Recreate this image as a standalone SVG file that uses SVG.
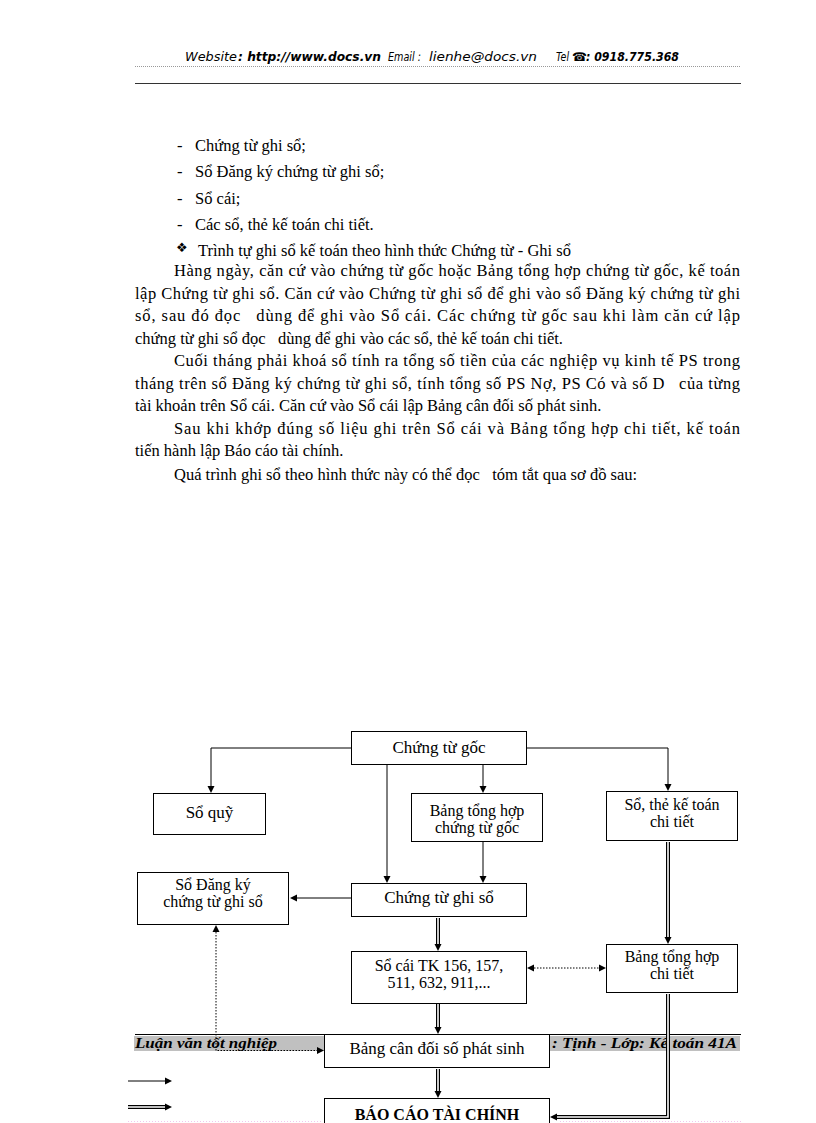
<svg xmlns="http://www.w3.org/2000/svg" width="816" height="1123" viewBox="0 0 816 1123">
<style>
  .t{font-family:"Liberation Serif","Times New Roman",serif;font-size:16.5px;fill:#000;white-space:pre}
  .b{font-family:"Liberation Serif","Times New Roman",serif;font-size:17px;fill:#000;text-anchor:middle}
  .b2{font-family:"Liberation Serif","Times New Roman",serif;font-size:16px;fill:#000;text-anchor:middle}
  .bb{font-family:"Liberation Serif","Times New Roman",serif;font-size:16px;font-weight:bold;fill:#000;text-anchor:middle}
  .box{fill:#fff;stroke:#000;stroke-width:1}
  .ln{fill:none;stroke:#000;stroke-width:1}
  .dot{fill:none;stroke:#000;stroke-width:1;stroke-dasharray:1.5 1.5}
  .dbo{fill:none;stroke:#000;stroke-width:4}
  .dbi{fill:none;stroke:#fff;stroke-width:1.6}
  .hd{font-family:"DejaVu Sans","Liberation Sans",sans-serif;font-size:12.5px;font-style:italic;fill:#000}
  .hb{font-weight:bold}
  .ft{font-family:"Liberation Serif","Times New Roman",serif;font-size:14px;font-style:italic;font-weight:bold;fill:#000}
</style>
<defs>
  <marker id="ah" markerUnits="userSpaceOnUse" markerWidth="8" markerHeight="8" viewBox="0 0 8 8" refX="0" refY="4" orient="auto-start-reverse">
    <path d="M0,0.5 L7,4 L0,7.5 z" fill="#000"/>
  </marker>
</defs>
<rect width="816" height="1123" fill="#fff"/>

<!-- header -->
<g id="header">
  <text class="hd" x="185" y="61" textLength="52" lengthAdjust="spacingAndGlyphs">Website</text>
  <text class="hd hb" x="238" y="61" textLength="143" lengthAdjust="spacingAndGlyphs">: http://www.docs.vn</text>
  <text class="hd" x="388" y="61" textLength="33" lengthAdjust="spacingAndGlyphs">Email :</text>
  <text class="hd" x="429" y="61" textLength="108" lengthAdjust="spacingAndGlyphs">lienhe@docs.vn</text>
  <text class="hd" x="556" y="61" textLength="13" lengthAdjust="spacingAndGlyphs">Tel</text>
  <text x="572" y="61" font-family="DejaVu Sans, sans-serif" font-size="12" font-weight="bold">☎</text>
  <text class="hd hb" x="586" y="61" textLength="93" lengthAdjust="spacingAndGlyphs">: 0918.775.368</text>
  <line x1="135" y1="66.5" x2="741" y2="66.5" stroke="#999" stroke-width="1" stroke-dasharray="1 1"/>
  <line x1="135" y1="83.5" x2="741" y2="83.5" stroke="#333" stroke-width="1"/>
</g>

<!-- body text -->
<g id="body">
  <text class="t" x="177" y="151">-</text><text class="t" x="195" y="151">Chứng từ ghi sổ;</text>
  <text class="t" x="177" y="177">-</text><text class="t" x="195" y="177">Sổ Đăng ký chứng từ ghi sổ;</text>
  <text class="t" x="177" y="203.5">-</text><text class="t" x="195" y="203.5">Sổ cái;</text>
  <text class="t" x="177" y="229.5">-</text><text class="t" x="195" y="229.5">Các sổ, thẻ kế toán chi tiết.</text>
  <text x="176" y="252" font-family="DejaVu Sans, sans-serif" font-size="13">❖</text>
  <text class="t" x="198" y="255.5">Trình tự ghi sổ kế toán theo hình thức Chứng từ - Ghi sổ</text>

  <text class="t" x="174" y="276" textLength="566" lengthAdjust="spacing">Hàng ngày, căn cứ vào chứng từ gốc hoặc Bảng tổng hợp chứng từ gốc, kế toán</text>
  <text class="t" x="135" y="298.5" textLength="605" lengthAdjust="spacing">lập Chứng từ ghi sổ. Căn cứ vào Chứng từ ghi sổ để ghi vào sổ Đăng ký chứng từ ghi</text>
  <text class="t" x="135" y="321" textLength="605" lengthAdjust="spacing">sổ, sau đó đọc   dùng để ghi vào Sổ cái. Các chứng từ gốc sau khi làm căn cứ lập</text>
  <text class="t" x="135" y="343.5">chứng từ ghi sổ đọc   dùng để ghi vào các sổ, thẻ kế toán chi tiết.</text>
  <text class="t" x="174" y="366" textLength="566" lengthAdjust="spacing">Cuối tháng phải khoá sổ tính ra tổng số tiền của các nghiệp vụ kinh tế PS trong</text>
  <text class="t" x="135" y="388.5" textLength="605" lengthAdjust="spacing">tháng trên sổ Đăng ký chứng từ ghi sổ, tính tổng số PS Nợ, PS Có và số D   của từng</text>
  <text class="t" x="135" y="411">tài khoản trên Sổ cái. Căn cứ vào Sổ cái lập Bảng cân đối số phát sinh.</text>
  <text class="t" x="174" y="433.5" textLength="566" lengthAdjust="spacing">Sau khi khớp đúng số liệu ghi trên Sổ cái và Bảng tổng hợp chi tiết, kế toán</text>
  <text class="t" x="135" y="456">tiến hành lập Báo cáo tài chính.</text>
  <text class="t" x="174" y="479.5">Quá trình ghi sổ theo hình thức này có thể đọc   tóm tắt qua sơ đồ sau:</text>
</g>

<!-- footer band (behind diagram) -->
<g id="footer">
  <line x1="135" y1="1034.5" x2="741" y2="1034.5" stroke="#000" stroke-width="1"/>
  <rect x="134" y="1036" width="190" height="15" fill="#c0c0c0"/>
  <rect x="549" y="1036" width="191" height="15" fill="#c0c0c0"/>
  <text class="ft" x="135" y="1047.5" textLength="142" lengthAdjust="spacingAndGlyphs">Luận văn tốt nghiệp</text>
  <text class="ft" x="552" y="1047.5" textLength="185" lengthAdjust="spacingAndGlyphs">: Tịnh - Lớp: Kế toán 41A</text>
  <line x1="128" y1="1121.5" x2="322" y2="1121.5" stroke="#f2c6ee" stroke-width="1" stroke-dasharray="1 2"/>
  <line x1="560" y1="1121.5" x2="742" y2="1121.5" stroke="#f2c6ee" stroke-width="1" stroke-dasharray="1 2"/>
</g>

<!-- connectors -->
<g id="connectors">
  <path class="ln" d="M351,748 H211 V786" marker-end="url(#ah)"/>
  <path class="ln" d="M387,765 V876" marker-end="url(#ah)"/>
  <path class="ln" d="M483,765 V786" marker-end="url(#ah)"/>
  <path class="ln" d="M527,748 H668 V784" marker-end="url(#ah)"/>
  <path class="ln" d="M483,842 V876" marker-end="url(#ah)"/>
  <path class="ln" d="M351,898 H297" marker-end="url(#ah)"/>

  <path class="dbo" d="M438,918 V944" marker-end="url(#ah)"/>
  <path class="dbi" d="M438,918 V944"/>
  <path class="dbo" d="M668,842 V937" marker-end="url(#ah)"/>
  <path class="dbi" d="M668,842 V937"/>
  <path class="dbo" d="M438,1004 V1027" marker-end="url(#ah)"/>
  <path class="dbi" d="M438,1004 V1027"/>
  <path class="dbo" d="M438,1069 V1091" marker-end="url(#ah)"/>
  <path class="dbi" d="M438,1069 V1091"/>
  <path class="dbo" d="M668,994 V1117 H557" marker-end="url(#ah)"/>
  <path class="dbi" d="M668,994 V1117 H557"/>

  <path class="dot" d="M534,968 H599" marker-start="url(#ah)" marker-end="url(#ah)"/>
  <path class="dot" d="M216,932 V1050.5 H317" marker-start="url(#ah)" marker-end="url(#ah)"/>

  <path class="ln" d="M128,1081 H165" marker-end="url(#ah)"/>
  <path class="dbo" d="M128,1107 H165" marker-end="url(#ah)"/>
  <path class="dbi" d="M128,1107 H165"/>
</g>

<!-- nodes -->
<g id="n-chung-tu-goc">
  <rect class="box" x="351.5" y="731.5" width="175" height="33"/>
  <text class="b" x="439" y="753">Chứng từ gốc</text>
</g>
<g id="n-so-quy">
  <rect class="box" x="153.5" y="793.5" width="112" height="41"/>
  <text class="b" x="209.5" y="818">Sổ quỹ</text>
</g>
<g id="n-bang-th-ctg">
  <rect class="box" x="411.5" y="793.5" width="131" height="48"/>
  <text class="b2" x="477" y="816">Bảng tổng hợp</text>
  <text class="b2" x="477" y="833">chứng từ gốc</text>
</g>
<g id="n-so-the-kt">
  <rect class="box" x="606.5" y="791.5" width="131" height="49"/>
  <text class="b2" x="672" y="810">Sổ, thẻ kế toán</text>
  <text class="b2" x="672" y="827">chi tiết</text>
</g>
<g id="n-so-dang-ky">
  <rect class="box" x="137.5" y="872.5" width="151" height="52"/>
  <text class="b2" x="213" y="890">Sổ Đăng ký</text>
  <text class="b2" x="213" y="907">chứng từ ghi sổ</text>
</g>
<g id="n-chung-tu-ghi-so">
  <rect class="box" x="351.5" y="883.5" width="175" height="33"/>
  <text class="b" x="439" y="903">Chứng từ ghi sổ</text>
</g>
<g id="n-so-cai">
  <rect class="box" x="351.5" y="951.5" width="175" height="52"/>
  <text class="b2" x="439" y="971">Sổ cái TK 156, 157,</text>
  <text class="b2" x="439" y="988">511, 632, 911,...</text>
</g>
<g id="n-bang-thct">
  <rect class="box" x="606.5" y="944.5" width="131" height="48"/>
  <text class="b2" x="672" y="962">Bảng tổng hợp</text>
  <text class="b2" x="672" y="979">chi tiết</text>
</g>
<g id="n-bang-can-doi">
  <rect class="box" x="324.5" y="1034.5" width="225" height="33"/>
  <text class="b" x="437" y="1053.5">Bảng cân đối số phát sinh</text>
</g>
<g id="n-bao-cao">
  <rect class="box" x="324.5" y="1098.5" width="225" height="30"/>
  <text class="bb" x="437" y="1120">BÁO CÁO TÀI CHÍNH</text>
</g>
</svg>
